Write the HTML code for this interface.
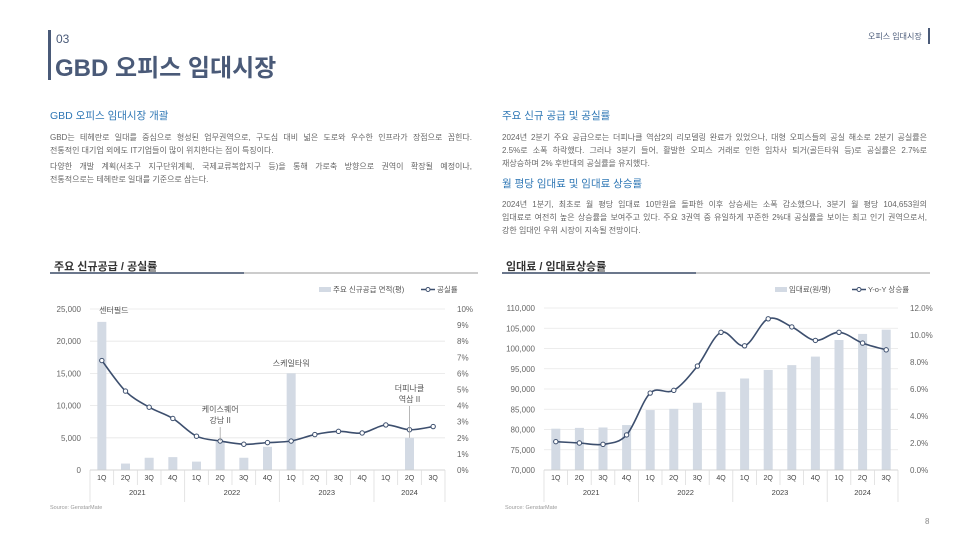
<!DOCTYPE html>
<html><head><meta charset="utf-8">
<style>
body{margin:0;width:980px;height:551px;background:#fff;position:relative;overflow:hidden;font-family:"Liberation Sans","Noto Sans CJK KR",sans-serif}
.a{position:absolute;margin:0}
.p{font-size:8px;color:#666;line-height:13px}
.p span{display:block;white-space:nowrap}
.p .j{text-align:justify;text-align-last:justify;white-space:normal}
.h{font-size:10.5px;color:#2f77b5}
.st{font-size:11px;color:#333;font-weight:bold}
</style></head><body>
<div class="a" style="left:48px;top:30px;width:3px;height:50px;background:#4a5a78"></div>
<div class="a" style="left:56px;top:32px;font-size:12px;color:#4a5a78">03</div>
<div class="a" style="left:55px;top:48px;font-size:24px;color:#4a5a78;font-weight:bold">GBD 오피스 임대시장</div>
<div class="a" style="left:868px;top:31px;font-size:8px;color:#4a5a78">오피스 임대시장</div>
<div class="a" style="left:928px;top:28px;width:1.5px;height:16px;background:#4a5a78"></div>

<div class="a h" style="left:50px;top:108px">GBD 오피스 임대시장 개괄</div>
<div class="a p" style="left:50px;top:131px;width:422px"><span class="j">GBD는 테헤란로 일대를 중심으로 형성된 업무권역으로, 구도심 대비 넓은 도로와 우수한 인프라가 장점으로 꼽힌다.</span><span>전통적인 대기업 외에도 IT기업들이 많이 위치한다는 점이 특징이다.</span><span style="height:3px"></span><span class="j">다양한 개발 계획(서초구 지구단위계획, 국제교류복합지구 등)을 통해 가로축 방향으로 권역이 확장될 예정이나,</span><span>전통적으로는 테헤란로 일대를 기준으로 삼는다.</span></div>

<div class="a h" style="left:502px;top:108px">주요 신규 공급 및 공실률</div>
<div class="a p" style="left:502px;top:131px;width:425px"><span class="j">2024년 2분기 주요 공급으로는 더피나클 역삼2의 리모델링 완료가 있었으나, 대형 오피스들의 공실 해소로 2분기 공실률은</span><span class="j">2.5%로 소폭 하락했다. 그러나 3분기 들어, 활발한 오피스 거래로 인한 임차사 퇴거(골든타워 등)로 공실률은 2.7%로</span><span>재상승하며 2% 후반대의 공실률을 유지했다.</span></div>
<div class="a h" style="left:502px;top:176px">월 평당 임대료 및 임대료 상승률</div>
<div class="a p" style="left:502px;top:198px;width:425px"><span class="j">2024년 1분기, 최초로 월 평당 임대료 10만원을 돌파한 이후 상승세는 소폭 감소했으나, 3분기 월 평당 104,653원의</span><span class="j">임대료로 여전히 높은 상승률을 보여주고 있다. 주요 3권역 중 유일하게 꾸준한 2%대 공실률을 보이는 최고 인기 권역으로서,</span><span>강한 임대인 우위 시장이 지속될 전망이다.</span></div>

<div class="a st" style="left:54px;top:258px">주요 신규공급 / 공실률</div>
<div class="a" style="left:50px;top:272px;width:428px;height:2px;background:#ccc"><div style="width:194px;height:2px;background:#6b778c"></div></div>
<div class="a st" style="left:506px;top:258px">임대료 / 임대료상승률</div>
<div class="a" style="left:502px;top:272px;width:428px;height:2px;background:#ccc"><div style="width:194px;height:2px;background:#6b778c"></div></div>

<div class="a" style="left:50px;top:505px;font-size:5.5px;color:#999">Source: GenstarMate</div>
<div class="a" style="left:505px;top:505px;font-size:5.5px;color:#999">Source: GenstarMate</div>
<div class="a" style="left:925px;top:517px;font-size:8px;color:#888">8</div>

<svg id="c1" class="a" style="left:0;top:0" width="980" height="551"></svg>
<script>
const quarters=["1Q","2Q","3Q","4Q","1Q","2Q","3Q","4Q","1Q","2Q","3Q","4Q","1Q","2Q","3Q"];
const years=["2021","2022","2023","2024"];
const supply=[23000,1000,1900,2000,1300,4500,1900,3600,15000,0,0,0,0,5000,0];
const vacancy=[6.8,4.9,3.9,3.2,2.1,1.8,1.6,1.7,1.8,2.2,2.4,2.3,2.8,2.5,2.7];
const leftTicks=["0","5,000","10,000","15,000","20,000","25,000"];
const leftTicksR=["0%","1%","2%","3%","4%","5%","6%","7%","8%","9%","10%"];
const rent=[80200,80400,80500,81100,84800,85100,86600,89300,92600,94700,95900,98000,102100,103600,104653];
const growth=[2.1,2.0,1.9,2.6,5.7,5.9,7.7,10.2,9.2,11.2,10.6,9.6,10.2,9.4,8.9];
const rightTicks=["70,000","75,000","80,000","85,000","90,000","95,000","100,000","105,000","110,000"];
const rightTicksR=["0.0%","2.0%","4.0%","6.0%","8.0%","10.0%","12.0%"];
const labels=[{i:0,t:["센터필드"],dx:0,y:313},{i:5,t:["케이스퀘어","강남 II"],y:412},{i:8,t:["스케일타워"],y:366},{i:13,t:["더피나클","역삼 II"],y:391}];
const svg=document.getElementById('c1');const NS="http://www.w3.org/2000/svg";
function el(t,a,txt){const e=document.createElementNS(NS,t);for(const k in a)e.setAttribute(k,a[k]);if(txt!==undefined)e.textContent=txt;svg.appendChild(e);return e;}
function curve(p){let d=`M${p[0][0]},${p[0][1]}`;for(let i=0;i<p.length-1;i++){const p0=p[i-1]||p[i],p1=p[i],p2=p[i+1],p3=p[i+2]||p2;d+=` C${p1[0]+(p2[0]-p0[0])/6},${p1[1]+(p2[1]-p0[1])/6} ${p2[0]-(p3[0]-p1[0])/6},${p2[1]-(p3[1]-p1[1])/6} ${p2[0]},${p2[1]}`;}return d;}
function chart(o){
 const x0=o.x0,x1=o.x1,yt=o.yt,yb=o.yb,n=quarters.length,w=(x1-x0)/n;
 const ys=v=>yb-(v-o.lmin)/(o.lmax-o.lmin)*(yb-yt);
 const yr=v=>yb-(v-o.rmin)/(o.rmax-o.rmin)*(yb-yt);
 const xc=i=>x0+w*(i+.5);
 o.lt.forEach((t,k)=>{const y=yb-k*(yb-yt)/(o.lt.length-1);
  let g=el('line',{x1:x0,x2:x1,y1:y,y2:y,stroke:'#e6e6e6','stroke-width':0.8});
  let e=el('text',{x:x0-9,y:y+3,'text-anchor':'end','font-size':8,fill:'#666'},t);});
 o.rt.forEach((t,k)=>{const y=yb-k*(yb-yt)/(o.rt.length-1);
  let e=el('text',{x:x1+12,y:y+3,'font-size':8,fill:'#666'},t);});
 o.bars.forEach((v,i)=>{if(!v)return;const y=ys(Math.max(v,o.lmin));
  let b=el('rect',{x:xc(i)-4.5,y:y,width:9,height:yb-y,fill:'#d3dae4'});});
 const pts=o.line.map((v,i)=>[xc(i),yr(v)]);
 let p=el('path',{d:curve(pts),fill:'none',stroke:'#3d4f6e','stroke-width':1.6});
 pts.forEach(q=>{let c=el('circle',{cx:q[0],cy:q[1],r:2.2,fill:'#fff',stroke:'#3d4f6e','stroke-width':1});});
 el('line',{x1:x0,x2:x1,y1:yb,y2:yb,stroke:'#ccc','stroke-width':0.8});
 for(let i=0;i<=n;i++){const x=x0+w*i;const big=i%4==0||i==n;el('line',{x1:x,x2:x,y1:yb,y2:big?yb+32:yb+15,stroke:'#ddd','stroke-width':0.8});}
 quarters.forEach((q,i)=>{let t=el('text',{x:xc(i),y:yb+10,'text-anchor':'middle','font-size':7,fill:'#444'},q);});
 years.forEach((yv,k)=>{const s=k*4,e=Math.min(s+4,n);let t=el('text',{x:x0+w*(s+e)/2,y:yb+25,'text-anchor':'middle','font-size':7.5,fill:'#444'},yv);});
 const lx=o.legX;
 let r=el('rect',{x:lx,y:287,width:12,height:5,fill:'#d3dae4'});
 let t1=el('text',{x:lx+14,y:292,'font-size':7.5,fill:'#555'},o.leg1);
 const l2=o.leg2x;el('line',{x1:l2,x2:l2+14,y1:289.5,y2:289.5,stroke:'#3d4f6e','stroke-width':1.5});el('circle',{cx:l2+7,cy:289.5,r:2,fill:'#fff',stroke:'#3d4f6e'});
 let t2=el('text',{x:l2+16,y:292,'font-size':7.5,fill:'#555'},o.leg2);
 return {xc,ys};
}
const L=chart({x0:90,x1:445,yt:309,yb:470,lmin:0,lmax:25000,rmin:0,rmax:10,lt:leftTicks,rt:leftTicksR,bars:supply,line:vacancy,legX:319,leg1:"주요 신규공급 면적(평)",leg2x:421,leg2:"공실률"});
labels.forEach(l=>{const x=L.xc(l.i)+(l.i==0?12:0);l.t.forEach((s,k)=>{let t=el('text',{x:x,y:l.y+k*11,'text-anchor':'middle','font-size':8,fill:'#555'},s);});
 if(l.i==5||l.i==13){const top=l.y+(l.t.length-1)*11+4,bot=L.ys(supply[l.i]);el('line',{x1:L.xc(l.i),x2:L.xc(l.i),y1:top,y2:bot,stroke:'#999','stroke-width':0.7});}});
chart({x0:544,x1:898,yt:308,yb:470,lmin:70000,lmax:110000,rmin:0,rmax:12,lt:rightTicks,rt:rightTicksR,bars:rent,line:growth,legX:775,leg1:"임대료(원/평)",leg2x:852,leg2:"Y-o-Y 상승률"});
</script>
</body></html>
